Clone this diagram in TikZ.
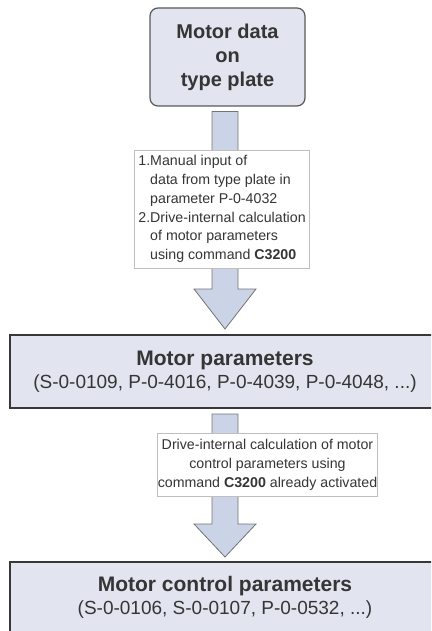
\documentclass[tikz,border=0pt]{standalone}
\usepackage{fontspec}
\setmainfont{Liberation Sans}
\usepackage{xcolor}
\usetikzlibrary{calc}

\definecolor{boxfill}{HTML}{E2E5F0}
\definecolor{arrowfill}{HTML}{CBD3E6}
\definecolor{textgray}{HTML}{353535}

\begin{document}
\begin{tikzpicture}[x=1pt,y=-1pt]
  \tikzset{every node/.style={text=textgray,inner sep=0pt},
    platebox/.style={draw=black!65,line width=1.2pt,fill=boxfill,rounded corners=8pt,minimum width=155pt,minimum height=98pt,align=center,font=\fontsize{20}{24}\selectfont\bfseries},
    parambox/.style={draw=black!78,line width=2pt,fill=boxfill,minimum width=430pt,align=center,font=\fontsize{19}{23}\selectfont},
    notebox/.style={draw=black!25,line width=0.8pt,fill=white,font=\fontsize{14.2}{18.7}\selectfont},
    blockarrow/.style={draw=black!55,line width=0.8pt,fill=arrowfill,line join=miter}};
  \useasboundingbox (0,0) rectangle (431,631);
  \clip (0,0) rectangle (431,631);
  \node[platebox] (plate) at (227.5,57) {Motor data\\on\\type plate};
  \node[parambox,minimum height=73pt] (params) at (225,371.5) {{\fontsize{21}{24}\selectfont\bfseries Motor parameters}\\(S-0-0109, P-0-4016, P-0-4039, P-0-4048, ...)};
  \node[parambox,minimum height=70pt] (control) at (225,597) {{\fontsize{21}{24}\selectfont\bfseries Motor control parameters}\\(S-0-0106, S-0-0107, P-0-0532, ...)};
  % block arrows, shafts run under the note boxes
  \coordinate (atop) at ($(params.north |- plate.south)+(0,5)$);
  \coordinate (atip) at ($(params.north)+(0,-5)$);
  \draw[blockarrow] ($(atop)+(-13,0)$) -- ($(atip)+(-13,-40)$) -- ($(atip)+(-31,-40)$) -- (atip)
    -- ($(atip)+(31,-40)$) -- ($(atip)+(13,-40)$) -- ($(atop)+(13,0)$) -- cycle;
  \coordinate (btop) at ($(params.south)+(0,5)$);
  \coordinate (btip) at ($(control.north)+(0,-4)$);
  \draw[blockarrow] ($(btop)+(-13,0)$) -- ($(btip)+(-13,-33)$) -- ($(btip)+(-31,-33)$) -- (btip)
    -- ($(btip)+(31,-33)$) -- ($(btip)+(13,-33)$) -- ($(btop)+(13,0)$) -- cycle;
  % notes on top of the arrows
  \node[notebox,anchor=west,inner xsep=4pt,minimum height=118pt,align=left] (input) at (134,209)
    {1.Manual input of\\\phantom{1.}data from type plate in\\\phantom{1.}parameter P-0-4032\\2.Drive-internal calculation\\\phantom{2.}of motor parameters\\\phantom{2.}using command \textbf{C3200}};
  \node[notebox,minimum width=219pt,minimum height=63pt,align=center] (calc) at (267.5,465)
    {Drive-internal calculation of motor\\control parameters using\\command \textbf{C3200} already activated};
\end{tikzpicture}
\end{document}
